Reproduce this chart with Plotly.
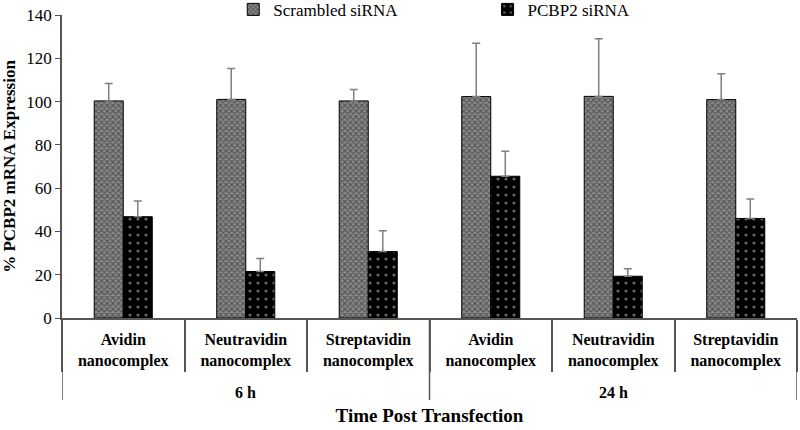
import plotly.graph_objects as go

times = ["6 h", "24 h"]
complexes = ["Avidin<br>nanocomplex", "Neutravidin<br>nanocomplex", "Streptavidin<br>nanocomplex"] * 2
scrambled = [100.3, 101.0, 100.3, 102.3, 102.4, 100.9]
scrambled_err = [8.0, 14.3, 5.3, 24.6, 26.6, 12.0]
pcbp2 = [46.8, 21.5, 30.7, 65.5, 19.3, 46.0]
pcbp2_err = [7.3, 6.0, 9.6, 11.6, 3.5, 9.0]
y_ticks = [0, 20, 40, 60, 80, 100, 120, 140]

FONT = "Liberation Serif"
LINE = "#555555"
n = len(complexes)
xpos = list(range(n))
per_group = n // len(times)

fig = go.Figure()
fig.add_trace(go.Bar(
    name="Scrambled siRNA", x=xpos, y=scrambled, legend="legend",
    marker=dict(color="#7a7a7a", line=dict(color="black", width=1),
                pattern=dict(shape="x", fgcolor="#222222", bgcolor="#8a8a8a", size=4, solidity=0.5)),
    error_y=dict(type="data", array=scrambled_err, arrayminus=[0] * n, symmetric=False,
                 color="#7f7f7f", thickness=1.5, width=4),
))
fig.add_trace(go.Bar(
    name="PCBP2 siRNA", x=xpos, y=pcbp2, legend="legend2",
    marker=dict(color="black", line=dict(color="black", width=1),
                pattern=dict(shape=".", fgcolor="#cccccc", bgcolor="black", size=8, solidity=0.12)),
    error_y=dict(type="data", array=pcbp2_err, arrayminus=[0] * n, symmetric=False,
                 color="#7f7f7f", thickness=1.5, width=4),
))

plot_h = 430 - 15 - 112
# outer group dividers and labels
bounds = [-0.5 + i * per_group for i in range(len(times) + 1)]
for b in bounds:
    fig.add_shape(type="line", xref="x", yref="paper", x0=b, x1=b, y0=0, y1=-82 / plot_h,
                  line=dict(color=LINE, width=1.5))
for i, t in enumerate(times):
    fig.add_annotation(x=i * per_group + (per_group - 1) / 2, xref="x", y=-74 / plot_h, yref="paper",
                       text=f"<b>{t}</b>", showarrow=False, yanchor="middle",
                       font=dict(family=FONT, size=16, color="black"))

legend_common = dict(orientation="h", y=1.017, xanchor="left", yanchor="middle",
                     font=dict(family=FONT, size=17, color="black"), itemwidth=30,
                     bgcolor="rgba(0,0,0,0)")
fig.update_layout(
    width=800, height=430,
    margin=dict(l=62, r=3, t=15, b=112, autoexpand=False),
    paper_bgcolor="white", plot_bgcolor="white",
    barmode="group", bargap=0.526, bargroupgap=0,
    font=dict(family=FONT, color="black", size=16),
    showlegend=True,
    legend=dict(x=0.233, **legend_common),
    legend2=dict(x=0.579, **legend_common),
    xaxis=dict(range=[-0.5, n - 0.5], tickvals=xpos, ticktext=[f"<b>{c}</b>" for c in complexes],
               showline=True, linecolor=LINE, linewidth=1.5,
               ticks="outside", ticklen=6, tickcolor="rgba(0,0,0,0)",
               minor=dict(tickvals=[i - 0.5 for i in range(n + 1)], ticks="outside", ticklen=52,
                          tickcolor=LINE, tickwidth=1.5, showgrid=False),
               tickfont=dict(family=FONT, size=16, color="black"),
               showgrid=False, zeroline=False, automargin=False,
               title=dict(text="<b>Time Post Transfection</b>", font=dict(family=FONT, size=19), standoff=40)),
    yaxis=dict(range=[0, 140], tickvals=y_ticks, showline=True, linecolor=LINE, linewidth=1.5,
               ticks="outside", ticklen=5, tickcolor=LINE, showgrid=False, zeroline=False,
               tickfont=dict(family=FONT, size=17), automargin=False,
               title=dict(text="<b>% PCBP2 mRNA Expression</b>", font=dict(family=FONT, size=17), standoff=8)),
)

fig.write_html("out.html", config={"displayModeBar": False},
               post_script="document.body.style.margin='0';")
